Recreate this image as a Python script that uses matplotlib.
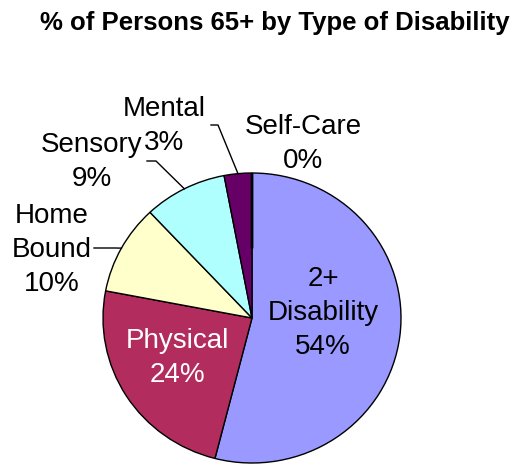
import numpy as np
import matplotlib.pyplot as plt

plt.rcParams['font.family'] = ['Liberation Sans', 'DejaVu Sans']

# data, clockwise from 12 o'clock
categories = ['2+\nDisability', 'Physical', 'Home\nBound', 'Sensory', 'Mental', 'Self-Care']
percents = [54, 24, 10, 9, 3, 0]
colors = ['#9999FF', '#B22D5E', '#FFFFCC', '#B0FFFF', '#660066', '#000000']
label_colors = ['black', 'white', 'black', 'black', 'black', 'black']

W, H = 517, 467
cx, cy, rx, ry = 252, 318, 149, 145   # pie centre / radii in pixels


def px(x, y):
    # pixel (from top-left) -> data coords
    return (x - cx) / rx, (cy - y) / ry


fig = plt.figure(figsize=(W / 100, H / 100), dpi=100)
ax = fig.add_axes([0, 0, 1, 1])

wedges, _ = ax.pie(percents, colors=colors, startangle=90, counterclock=False,
                   wedgeprops=dict(edgecolor='black', linewidth=1))
# zero slice drawn as a short black stroke on the rim
wedges[5].set_width(0.52)
wedges[5].set_linewidth(2)

ax.set_aspect('auto')
ax.set_xlim(-cx / rx, (W - cx) / rx)
ax.set_ylim(-(H - cy) / ry, cy / ry)
ax.axis('off')

# label placement (pixels) and leader-line elbows
label_pos = [(323, 313), (177, 358), (52, 250), (92, 162), (164, 126), (303, 144)]
elbows = {2: [(115, 248), (94, 248)],
          3: [(156, 161), (147, 161)],
          4: [(218, 125), (211, 125)]}

for i, (cat, pct) in enumerate(zip(categories, percents)):
    x, y = px(*label_pos[i])
    ax.text(x, y, f"{cat}\n{pct}%", ha='center', va='center', fontsize=20,
            color=label_colors[i], linespacing=1.42)
    if i in elbows:
        w = wedges[i]
        mid = np.deg2rad((w.theta1 + w.theta2) / 2)
        xs = [np.cos(mid)] + [px(*p)[0] for p in elbows[i]]
        ys = [np.sin(mid)] + [px(*p)[1] for p in elbows[i]]
        ax.plot(xs, ys, color='black', lw=1)

fig.text(275 / W, 1 - 23 / H, "% of Persons 65+ by Type of Disability",
         ha='center', va='center', fontsize=18.5, fontweight='bold')

fig.savefig('out.png', dpi=100)
